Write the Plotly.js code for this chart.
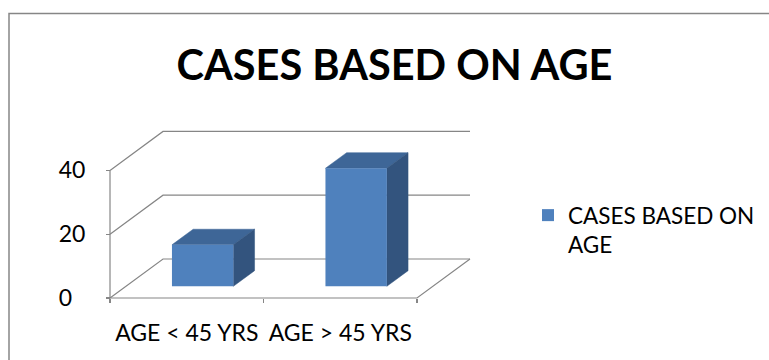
<!DOCTYPE html>
<html>
<head>
<meta charset="utf-8">
<script src="https://cdn.plot.ly/plotly-3.0.1.min.js"></script>
<style>
  html, body { margin: 0; padding: 0; background: #ffffff; }
  #chart { width: 769px; height: 360px; }
</style>
</head>
<body>
<div id="chart"></div>
<script>
// ---- data ----
const categories = ['AGE < 45 YRS', 'AGE > 45 YRS'];
const cases = [13, 37];
const seriesName = 'CASES BASED ON AGE';
const chartTitle = 'CASES BASED ON AGE';
const yTickValues = [0, 20, 40];
const yTickLabels = ['0\u2007', '20', '40'];

// ---- oblique 3D projection set-up ----
const W = 769, H = 360;
const PX_PER_X = 153.5;          // pixels per category unit
const PX_PER_Y = 3.19;           // pixels per case
const FRONT = { x: 110, y: 298 }; // pixel of the front-left floor corner (x=-0.5, y=0)
const DEPTH_X = 53 / PX_PER_X;   // full floor depth, expressed in x units
const DEPTH_Y = 39 / PX_PER_Y;   // full floor depth, expressed in y units
const X_MIN = -0.5, X_MAX = categories.length - 0.5;
const Y_TOP = yTickValues[yTickValues.length - 1];

const BAR_W = 0.4;               // bar width in category units
const BAR_D0 = 0.3, BAR_D1 = 0.7; // bar front/back depth fractions

const xRange = [-0.55, X_MAX + DEPTH_X + 0.05];
const yRange = [-1.5, Y_TOP + DEPTH_Y + 1.8];

const pxX = v => FRONT.x + (v - X_MIN) * PX_PER_X;
const pxY = v => FRONT.y - v * PX_PER_Y;

const xDomain = [pxX(xRange[0]) / W, pxX(xRange[1]) / W];
const yDomain = [1 - pxY(yRange[0]) / H, 1 - pxY(yRange[1]) / H];

const GRID = '#868686';
const FRONT_COL = '#4F81BD';
const TOP_COL = '#3E6697';
const SIDE_COL = '#33547E';
const FONT = 'Lato, "Open Sans", sans-serif';

// walls, floor and gridlines
const gx = [], gy = [];
yTickValues.forEach(t => {
  gx.push(X_MIN, X_MIN + DEPTH_X, X_MAX + DEPTH_X, null);
  gy.push(t, t + DEPTH_Y, t + DEPTH_Y, null);
});
gx.push(X_MIN, X_MAX, X_MAX + DEPTH_X, null);
gy.push(0, 0, DEPTH_Y, null);
gx.push(X_MIN, X_MIN);
gy.push(0, Y_TOP);

// top and side faces of each column
const base = BAR_D0 * DEPTH_Y;
const shiftX = BAR_D0 * DEPTH_X;
const dX = (BAR_D1 - BAR_D0) * DEPTH_X;
const dY = (BAR_D1 - BAR_D0) * DEPTH_Y;
const topX = [], topY = [], sideX = [], sideY = [];
cases.forEach((v, i) => {
  const xl = i - BAR_W / 2 + shiftX;
  const xr = xl + BAR_W;
  const yt = base + v;
  topX.push(xl, xr, xr + dX, xl + dX, xl, null);
  topY.push(yt, yt, yt + dY, yt + dY, yt, null);
  sideX.push(xr, xr, xr + dX, xr + dX, xr, null);
  sideY.push(base, yt, yt + dY, base + dY, base, null);
});

const traces = [
  {
    type: 'scatter', mode: 'lines', x: gx, y: gy,
    line: { color: GRID, width: 1.2 },
    hoverinfo: 'skip', showlegend: false, xaxis: 'x', yaxis: 'y'
  },
  {
    type: 'scatter', mode: 'lines', x: topX, y: topY, fill: 'toself',
    fillcolor: TOP_COL, line: { color: TOP_COL, width: 0.5 },
    hoverinfo: 'skip', showlegend: false, xaxis: 'x', yaxis: 'y'
  },
  {
    type: 'scatter', mode: 'lines', x: sideX, y: sideY, fill: 'toself',
    fillcolor: SIDE_COL, line: { color: SIDE_COL, width: 0.5 },
    hoverinfo: 'skip', showlegend: false, xaxis: 'x', yaxis: 'y'
  },
  {
    type: 'bar', name: seriesName.replace('ON AGE', 'ON<br>AGE'),
    x: categories.map((c, i) => i), y: cases,
    base: cases.map(() => base),
    width: BAR_W, offset: -BAR_W / 2 + shiftX,
    marker: { color: FRONT_COL, line: { width: 0 } },
    hoverinfo: 'skip', xaxis: 'x2', yaxis: 'y'
  }
];

const layout = {
  width: W, height: H,
  margin: { l: 0, r: 0, t: 0, b: 0, pad: 0, autoexpand: false },
  paper_bgcolor: '#ffffff', plot_bgcolor: 'rgba(0,0,0,0)',
  font: { family: FONT, size: 23, color: '#000000' },
  title: {
    text: chartTitle,
    font: { family: FONT, size: 41.5, weight: 700, color: '#000000' },
    x: 394.5 / W, xref: 'paper', xanchor: 'center',
    y: 1 - 65 / H, yref: 'paper', yanchor: 'middle'
  },
  xaxis: {
    domain: xDomain, range: xRange, anchor: 'free', position: 1 - FRONT.y / H,
    tickvals: [X_MIN, 0.5, X_MAX], ticktext: ['', '', ''],
    ticks: 'outside', ticklen: 4, tickwidth: 1.2, tickcolor: GRID,
    showgrid: false, zeroline: false, showline: false, fixedrange: true
  },
  xaxis2: {
    domain: xDomain, range: xRange, overlaying: 'x', anchor: 'free',
    position: 1 - FRONT.y / H,
    tickvals: categories.map((c, i) => i), ticktext: categories,
    ticks: '', ticklabelstandoff: 19,
    showgrid: false, zeroline: false, showline: false, fixedrange: true
  },
  yaxis: {
    domain: yDomain, range: yRange, anchor: 'free', position: FRONT.x / W,
    tickvals: yTickValues, ticktext: yTickLabels,
    ticks: 'outside', ticklen: 4, tickwidth: 1.2, tickcolor: GRID,
    ticklabelstandoff: 16,
    showgrid: false, zeroline: false, showline: false, fixedrange: true
  },
  legend: {
    x: 528 / W, xanchor: 'left', y: 1 - 194 / H, yanchor: 'top',
    valign: 'top', font: { family: FONT, size: 22.5, color: '#000000' },
    bgcolor: 'rgba(0,0,0,0)', borderwidth: 0
  },
  showlegend: true,
  shapes: [{
    type: 'rect', xref: 'paper', yref: 'paper',
    x0: 9 / W, x1: 1.05, y0: -0.05, y1: 1 - 13.5 / H,
    line: { color: GRID, width: 1.5 }, layer: 'below'
  }]
};

Plotly.newPlot('chart', traces, layout, { staticPlot: true, displayModeBar: false });
</script>
</body>
</html>
